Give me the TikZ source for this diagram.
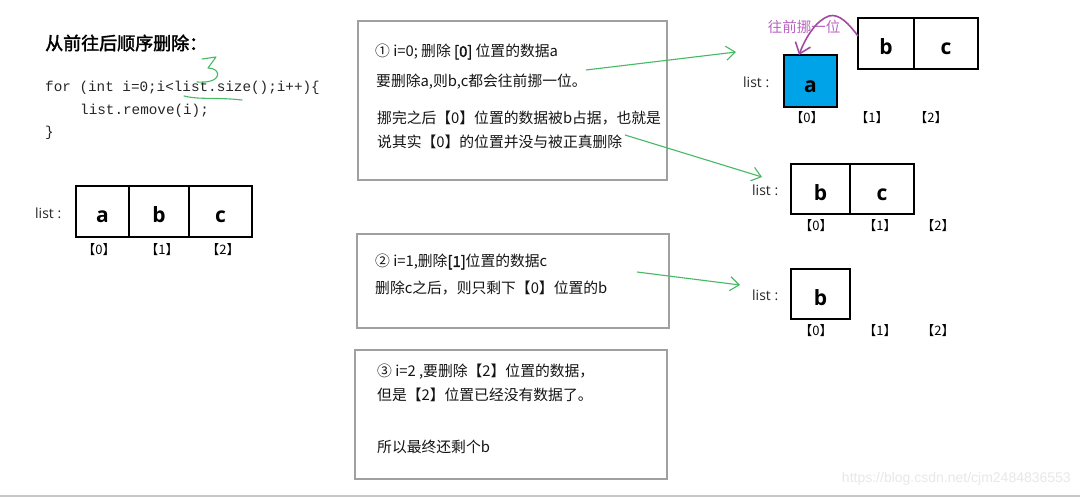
\documentclass[tikz,border=0pt]{standalone}
\usepackage{fontspec}
\setmainfont{Noto Sans CJK SC}[AutoFakeBold=2]
\newfontfamily\lat{Open Sans}
\newfontfamily\wm{Liberation Sans}
\setmonofont{Liberation Mono}
\usetikzlibrary{arrows.meta,calc}
\definecolor{gline}{RGB}{70,185,100}
\definecolor{purp}{RGB}{163,73,164}
\definecolor{purtxt}{RGB}{185,100,195}
\definecolor{cellblue}{RGB}{0,162,232}
\definecolor{boxgray}{RGB}{160,160,160}
\begin{document}
\begin{tikzpicture}[x=1pt,y=-1pt,
 cell/.style={draw=black,line width=2.4pt,inner sep=0pt,font=\lat\bfseries\fontsize{21}{24}\selectfont,minimum height=51pt,text height=23pt,text depth=0pt},
 idx/.style={anchor=center,inner sep=0pt,font=\fontsize{13}{15}\selectfont,text=black},
 listlbl/.style={anchor=west,inner sep=0pt,font=\lat\fontsize{14}{16}\selectfont,text=black!85},
 note/.style={draw=boxgray,line width=1.1pt,inner sep=0pt},
 ntext/.style={anchor=west,inner sep=0pt,font=\fontsize{14.8}{17}\selectfont,text=black!92},
 code/.style={anchor=west,inner sep=0pt,font=\ttfamily\fontsize{14.3}{16}\selectfont,text=black!85},
 garrow/.style={draw=gline,line width=1.1pt,-{Straight Barb[length=9pt,width=14pt]}},
]
\fill[white] (0,0) rectangle (1080,497);
\useasboundingbox (0,0) rectangle (1080,497);

% title and code
\node[anchor=west,inner sep=0pt,font=\bfseries\fontsize{18}{20}\selectfont] (title) at (45,43) {从前往后顺序删除：};
\node[code] (c1) at (45,88) {for (int i=0;i<list.size();i++)\{};
\node[code] (c2) at (80,111) {list.remove(i);};
\node[code] (c3) at (45,133) {\}};
% handwritten 3 and underline
\draw[gline,line width=1.1pt,line cap=round,line join=round] (202,59) -- (216,57) -- (208,68) .. controls (222,68) and (223,84) .. (197,82);
\draw[gline,line width=1.1pt,line cap=round] (184,96) .. controls (200,100) and (215,97) .. (242,100);

% list 1
\node[listlbl] (l1) at (35,213) {list :};
\node[cell,minimum width=53pt] (l1a) at (102.5,211.5) {a};
\node[cell,minimum width=60pt] (l1b) at (159,211.5) {b};
\node[cell,minimum width=63pt] (l1c) at (220.5,211.5) {c};
\node[idx] (l1i0) at (99,250) {【0】};
\node[idx] (l1i1) at (162,250) {【1】};
\node[idx] (l1i2) at (223,250) {【2】};

% note boxes
\node[note,minimum width=309pt,minimum height=159pt] (box1) at (512.5,100.5) {};
\node[ntext] (t11) at (375,52) {① i=0; 删除 \textbf{[0]} 位置的数据a};
\node[ntext] (t12) at (376,82) {要删除a,则b,c都会往前挪一位。};
\node[ntext] (t13) at (377,118) {挪完之后【0】位置的数据被b占据，也就是};
\node[ntext] (t14) at (377,142) {说其实【0】的位置并没与被正真删除};

\node[note,minimum width=312pt,minimum height=94pt] (box2) at (513,281) {};
\node[ntext] (t21) at (375,262) {② i=1,删除\textbf{[1]}位置的数据c};
\node[ntext] (t22) at (375,288) {删除c之后，则只剩下【0】位置的b};

\node[note,minimum width=312pt,minimum height=129pt] (box3) at (511,414.5) {};
\node[ntext] (t31) at (377,372) {③ i=2 ,要删除【2】位置的数据，};
\node[ntext] (t32) at (377,395) {但是【2】位置已经没有数据了。};
\node[ntext] (t33) at (377,447) {所以最终还剩个b};

% right top list
\node[listlbl] (r1) at (743,82) {list :};
\node[cell,minimum width=53pt,minimum height=52pt,fill=cellblue] (r1a) at (810.5,81) {a};
\node[cell,minimum width=56pt] (r1b) at (886,43.5) {b};
\node[cell,minimum width=64pt] (r1c) at (946,43.5) {c};
\node[idx] (r1i0) at (807,118) {【0】};
\node[idx] (r1i1) at (872,118) {【1】};
\node[idx] (r1i2) at (931,118) {【2】};
\node[anchor=center,inner sep=0pt,font=\fontsize{14.5}{16}\selectfont,text=purtxt] (mv) at (804,27) {往前挪一位};
\coordinate (ps) at (858,36);
\coordinate (pk) at (829,16);
\coordinate (pe) at (799,55);
\draw[purp,line width=1.6pt,-{Straight Barb[length=10pt,width=16pt]}] (ps) .. controls (849,24) and (839,13) .. (pk) .. controls (817,20) and (806,36) .. (pe);

% right middle list
\node[listlbl] (r2) at (752,190) {list :};
\node[cell,minimum width=59pt,minimum height=50pt] (r2b) at (820.5,189) {b};
\node[cell,minimum width=64pt,minimum height=50pt] (r2c) at (882,189) {c};
\node[idx] (r2i0) at (816,226) {【0】};
\node[idx] (r2i1) at (880,226) {【1】};
\node[idx] (r2i2) at (938,226) {【2】};

% right bottom list
\node[listlbl] (r3) at (752,295) {list :};
\node[cell,minimum width=59pt,minimum height=50pt] (r3b) at (820.5,294) {b};
\node[idx] (r3i0) at (816,331) {【0】};
\node[idx] (r3i1) at (880,331) {【1】};
\node[idx] (r3i2) at (938,331) {【2】};

% green arrows
\coordinate (g1s) at (586,70);
\coordinate (g1e) at (736,52);
\coordinate (g2s) at (625,135);
\coordinate (g2e) at (762,177);
\coordinate (g3s) at (637,272);
\coordinate (g3e) at (740,285);
\draw[garrow] (g1s) -- (g1e);
\draw[garrow] (g2s) -- (g2e);
\draw[garrow] (g3s) -- (g3e);

% watermark and bottom rule
\node[anchor=east,inner sep=0pt,font=\wm\fontsize{14}{16}\selectfont,text=black!9] (wmk) at (1071,479) {https://blog.csdn.net/cjm2484836553};
\draw[black!22,line width=1.5pt] (0,496) -- (1080,496);
\end{tikzpicture}
\end{document}
